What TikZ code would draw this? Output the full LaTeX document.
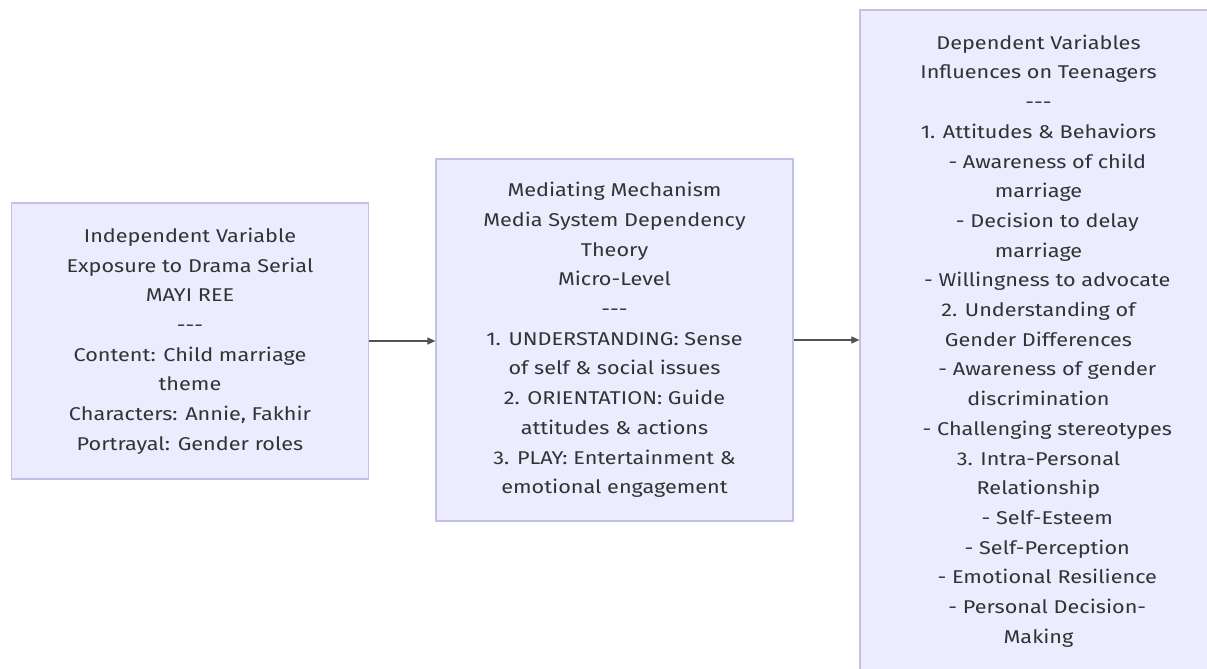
\documentclass[tikz,border=0pt]{standalone}
\usepackage{fontspec}
\setmainfont{Fira Sans}[FakeStretch=1.17]
\usetikzlibrary{arrows.meta}
\definecolor{boxfill}{HTML}{ECECFF}
\definecolor{boxline}{HTML}{C4BFE6}
\definecolor{txt}{HTML}{333333}
\newcommand{\dd}{\hspace*{0.95em}}
\newcommand{\sep}{-{}-{}-}
\tikzset{
  box/.style={draw=boxline, fill=boxfill, line width=1.2pt, align=center,
    text=txt, inner sep=0pt, minimum width=357pt,
    font=\fontsize{18.5}{29.7}\selectfont},
  conn/.style={draw=txt!85, line width=1.1pt, -{Triangle[length=8pt,width=7pt]}}
}
\begin{document}
\begin{tikzpicture}[x=1pt,y=-1pt]
\useasboundingbox (0,0) rectangle (1207,669);
\fill[white] (0,0) rectangle (1207,669);
\node[box, minimum height=276pt] (iv) at (190,341) {Independent Variable\\Exposure to Drama Serial\\MAYI REE\\\sep\\Content: Child marriage\\theme\\Characters: Annie, Fakhir\\Portrayal: Gender roles};
\node[box, minimum height=362pt] (mm) at (614.5,340) {Mediating Mechanism\\Media System Dependency\\Theory\\Micro-Level\\\sep\\1. UNDERSTANDING: Sense\\of self \& social issues\\2. ORIENTATION: Guide\\attitudes \& actions\\3. PLAY: Entertainment \&\\emotional engagement};
\node[box, minimum height=662pt] (dv) at (1038.5,341) {Dependent Variables\\Influences on Teenagers\\\sep\\1. Attitudes \& Behaviors\\\dd- Awareness of child\\marriage\\\dd- Decision to delay\\marriage\\\dd- Willingness to advocate\\2. Understanding of\\Gender Differences\\\dd- Awareness of gender\\discrimination\\\dd- Challenging stereotypes\\3. Intra-Personal\\Relationship\\\dd- Self-Esteem\\\dd- Self-Perception\\\dd- Emotional Resilience\\\dd- Personal Decision-\\Making};
\draw[conn] (iv.east) -- (mm.west |- iv.east);
\draw[conn] (mm.east) -- (dv.west |- mm.east);
\end{tikzpicture}
\end{document}
